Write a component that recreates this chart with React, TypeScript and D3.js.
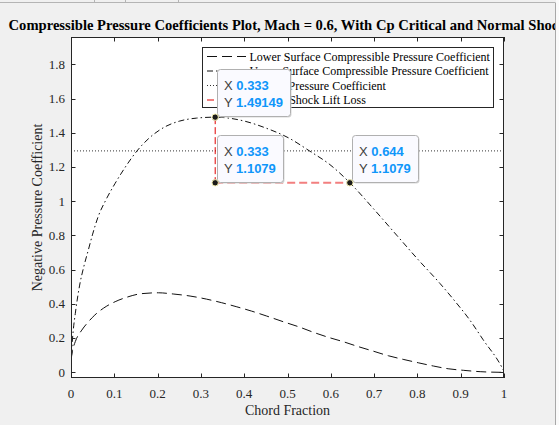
import { useEffect, useRef } from 'react'
import * as d3 from 'd3'

// values
const upperX = [0, 0.002, 0.005, 0.01, 0.02, 0.03, 0.04, 0.05, 0.063, 0.08, 0.102, 0.125, 0.152, 0.18, 0.217, 0.25, 0.29, 0.333, 0.398, 0.452, 0.502, 0.552, 0.598, 0.644, 0.698, 0.752, 0.802, 0.852, 0.887, 0.921, 0.952, 0.995, 1]
const upperY = [0.02, 0.14, 0.24, 0.345, 0.51, 0.622, 0.715, 0.808, 0.912, 1.005, 1.105, 1.198, 1.293, 1.368, 1.435, 1.468, 1.486, 1.4915, 1.47, 1.426, 1.371, 1.292, 1.214, 1.108, 0.958, 0.802, 0.658, 0.52, 0.415, 0.306, 0.19, 0.03, 0.005]
const lowerX = [0, 0.003, 0.01, 0.025, 0.04, 0.055, 0.075, 0.102, 0.13, 0.163, 0.202, 0.236, 0.275, 0.313, 0.348, 0.383, 0.417, 0.452, 0.49, 0.525, 0.56, 0.594, 0.629, 0.664, 0.698, 0.733, 0.767, 0.802, 0.837, 0.871, 0.906, 0.945, 1]
const lowerY = [0.07, 0.12, 0.18, 0.247, 0.295, 0.335, 0.375, 0.413, 0.44, 0.46, 0.465, 0.458, 0.446, 0.428, 0.407, 0.383, 0.358, 0.329, 0.296, 0.267, 0.234, 0.205, 0.179, 0.15, 0.124, 0.097, 0.076, 0.056, 0.037, 0.021, 0.012, 0.004, 0]
const cpCritical = 1.2943
const shockX = [0.333, 0.333, 0.644]
const shockY = [1.49149, 1.1079, 1.1079]
const tipX = ['0.333', '0.333', '0.644']
const tipY = ['1.49149', '1.1079', '1.1079']
const xTicks = [0, 0.1, 0.2, 0.3, 0.4, 0.5, 0.6, 0.7, 0.8, 0.9, 1]
const yTicks = [0, 0.2, 0.4, 0.6, 0.8, 1, 1.2, 1.4, 1.6, 1.8]
const legendLabels = [
  'Lower Surface Compressible Pressure Coefficient',
  'Upper Surface Compressible Pressure Coefficient',
  'Critical Pressure Coefficient',
  'Normal Shock Lift Loss',
]

const W = 559
const H = 425
const serif = '"Liberation Serif", "Times New Roman", serif'
const sans = '"Liberation Sans", Arial, sans-serif'
const axisColor = '#262626'

export default function App() {
  const svgRef = useRef<SVGSVGElement>(null)

  useEffect(() => {
    if (!svgRef.current) return
    const svg = d3.select(svgRef.current)
    svg.selectAll('*').remove()

    const left = 71
    const right = 504
    const top = 37
    const bottom = 378

    const x = d3.scaleLinear().domain([0, 1]).range([left, right])
    const y = d3.scaleLinear().domain([-0.033, 1.96]).range([bottom, top])

    // figure background + window chrome
    svg.append('rect').attr('width', W).attr('height', H).attr('fill', '#f0f0f0')
    svg.append('line').attr('x1', 0).attr('x2', 555).attr('y1', 2.5).attr('y2', 2.5)
      .attr('stroke', '#b4b4b4')
    ;[94, 125, 178].forEach((tx) => {
      svg.append('line').attr('x1', tx + 0.5).attr('x2', tx + 0.5).attr('y1', 0).attr('y2', 3)
        .attr('stroke', '#b4b4b4')
    })

    // axes background
    svg.append('rect')
      .attr('x', left).attr('y', top)
      .attr('width', right - left).attr('height', bottom - top)
      .attr('fill', '#fff')

    // title
    svg.append('text')
      .attr('x', (left + right) / 2).attr('y', 29.5)
      .attr('text-anchor', 'middle')
      .style('font-family', serif).style('font-size', '14.6px').style('font-weight', 'bold')
      .attr('fill', '#000')
      .text('Compressible Pressure Coefficients Plot, Mach = 0.6, With Cp Critical and Normal Shock')

    // right window edge drawn over the clipped title
    svg.append('rect').attr('x', 556).attr('y', 0).attr('width', 3).attr('height', H).attr('fill', '#fafafa')
    svg.append('line').attr('x1', 555.5).attr('x2', 555.5).attr('y1', 2.5).attr('y2', H)
      .attr('stroke', '#a8a8a8')

    const clip = svg.append('defs').append('clipPath').attr('id', 'plotclip')
    clip.append('rect').attr('x', left).attr('y', top).attr('width', right - left).attr('height', bottom - top)
    const plot = svg.append('g').attr('clip-path', 'url(#plotclip)')

    const line = d3.line<[number, number]>()
      .x((d) => x(d[0]))
      .y((d) => y(d[1]))
      .curve(d3.curveMonotoneX)

    // Cp critical
    plot.append('line')
      .attr('x1', x(0)).attr('x2', x(1))
      .attr('y1', y(cpCritical)).attr('y2', y(cpCritical))
      .attr('stroke', '#333').attr('stroke-width', 1).attr('stroke-dasharray', '1,2')

    // lower surface
    plot.append('path')
      .datum(lowerX.map((v, i) => [v, lowerY[i]] as [number, number]))
      .attr('d', line)
      .attr('fill', 'none').attr('stroke', '#111').attr('stroke-width', 1)
      .attr('stroke-dasharray', '10,5')

    // upper surface
    plot.append('path')
      .datum(upperX.map((v, i) => [v, upperY[i]] as [number, number]))
      .attr('d', line)
      .attr('fill', 'none').attr('stroke', '#111').attr('stroke-width', 1)
      .attr('stroke-dasharray', '6,3,1.5,3')

    // normal shock lift loss
    plot.append('line')
      .attr('x1', x(shockX[1])).attr('x2', x(shockX[2]))
      .attr('y1', y(shockY[1])).attr('y2', y(shockY[2]))
      .attr('stroke', '#f27f7f').attr('stroke-width', 2).attr('stroke-dasharray', '8,4')
    plot.append('line')
      .attr('x1', x(shockX[0])).attr('x2', x(shockX[1]))
      .attr('y1', y(shockY[0])).attr('y2', y(shockY[1]))
      .attr('stroke', '#e00000').attr('stroke-width', 1).attr('stroke-dasharray', '7,3')

    // box and ticks
    const tickLen = 4.5
    const ax = svg.append('g').attr('stroke', axisColor).attr('stroke-width', 1)
    xTicks.forEach((t) => {
      const px = Math.round(x(t)) + 0.5
      ax.append('line').attr('x1', px).attr('x2', px).attr('y1', bottom).attr('y2', bottom - tickLen)
      ax.append('line').attr('x1', px).attr('x2', px).attr('y1', top).attr('y2', top + tickLen)
    })
    yTicks.forEach((t) => {
      const py = Math.round(y(t)) + 0.5
      ax.append('line').attr('x1', left).attr('x2', left + tickLen).attr('y1', py).attr('y2', py)
      ax.append('line').attr('x1', right).attr('x2', right - tickLen).attr('y1', py).attr('y2', py)
    })
    ax.append('rect')
      .attr('x', left + 0.5).attr('y', top + 0.5)
      .attr('width', right - left - 1).attr('height', bottom - top - 1)
      .attr('fill', 'none')

    const fmt = (t: number) => String(+t.toFixed(1))
    svg.append('g').selectAll('text').data(xTicks).enter().append('text')
      .attr('x', (d) => x(d)).attr('y', 397.5)
      .attr('text-anchor', 'middle')
      .style('font-family', serif).style('font-size', '13px')
      .attr('fill', axisColor)
      .text(fmt)
    svg.append('g').selectAll('text').data(yTicks).enter().append('text')
      .attr('x', 65).attr('y', (d) => y(d) + 4.3)
      .attr('text-anchor', 'end')
      .style('font-family', serif).style('font-size', '13px')
      .attr('fill', axisColor)
      .text(fmt)

    svg.append('text')
      .attr('x', (left + right) / 2).attr('y', 414.5)
      .attr('text-anchor', 'middle')
      .style('font-family', serif).style('font-size', '14px')
      .attr('fill', axisColor)
      .text('Chord Fraction')
    svg.append('text')
      .attr('transform', `translate(41.5,${(top + bottom) / 2}) rotate(-90)`)
      .attr('text-anchor', 'middle')
      .style('font-family', serif).style('font-size', '14px')
      .attr('fill', axisColor)
      .text('Negative Pressure Coefficient')

    // legend
    const lg = svg.append('g')
    lg.append('rect')
      .attr('x', 202.5).attr('y', 47.5).attr('width', 291).attr('height', 60)
      .attr('fill', '#fff').attr('stroke', axisColor).attr('stroke-width', 1)
    const legendStyles = [
      { stroke: '#111', dash: '10,5', width: 1 },
      { stroke: '#111', dash: '6,3,1.5,3', width: 1 },
      { stroke: '#333', dash: '1,2', width: 1 },
      { stroke: '#e00000', dash: '7,3', width: 1 },
    ]
    legendLabels.forEach((label, i) => {
      const ly = 56.5 + i * 14.5
      lg.append('line')
        .attr('x1', 207).attr('x2', 246).attr('y1', ly).attr('y2', ly)
        .attr('stroke', legendStyles[i].stroke)
        .attr('stroke-width', legendStyles[i].width)
        .attr('stroke-dasharray', legendStyles[i].dash)
      lg.append('text')
        .attr('x', 249.5).attr('y', ly + 4)
        .style('font-family', serif).style('font-size', '12px')
        .attr('fill', '#000')
        .text(label)
    })

    // data tips
    const tips = svg.append('g')
    shockX.forEach((sx, i) => {
      const mx = x(sx)
      const my = y(shockY[i])
      const bx = Math.round(mx) + 2
      const bh = 47
      const by = Math.round(my) - 1 - bh
      const g = tips.append('g')
      const xt = g.append('text')
        .attr('x', bx + 7).attr('y', by + 21)
        .style('font-family', sans).style('font-size', '13px')
      xt.append('tspan').attr('fill', '#404040').text('X ')
      xt.append('tspan').attr('fill', '#0f96fa').style('font-weight', 'bold').text(tipX[i])
      const yt = g.append('text')
        .attr('x', bx + 7).attr('y', by + 37.5)
        .style('font-family', sans).style('font-size', '13px')
      yt.append('tspan').attr('fill', '#404040').text('Y ')
      yt.append('tspan').attr('fill', '#0f96fa').style('font-weight', 'bold').text(tipY[i])
      const tw = Math.max(
        (xt.node() as SVGTextElement).getComputedTextLength(),
        (yt.node() as SVGTextElement).getComputedTextLength(),
      )
      const bw = Math.round(tw + 14)
      g.insert('rect', 'text')
        .attr('x', bx + 1.5).attr('y', by + 1.5).attr('width', bw).attr('height', bh)
        .attr('rx', 3).attr('fill', '#d8d8d8')
      g.insert('rect', 'text')
        .attr('x', bx + 0.5).attr('y', by + 0.5).attr('width', bw).attr('height', bh)
        .attr('rx', 3).attr('fill', '#fafaff').attr('stroke', '#b0b0b0')
      tips.append('circle')
        .attr('cx', mx).attr('cy', my).attr('r', 3.2)
        .attr('fill', '#1a1a1a').attr('stroke', '#f4eeb0').attr('stroke-width', 1)
    })
  }, [])

  return (
    <svg
      ref={svgRef}
      width={W}
      height={H}
      style={{ position: 'absolute', left: 0, top: 0, display: 'block' }}
    />
  )
}
